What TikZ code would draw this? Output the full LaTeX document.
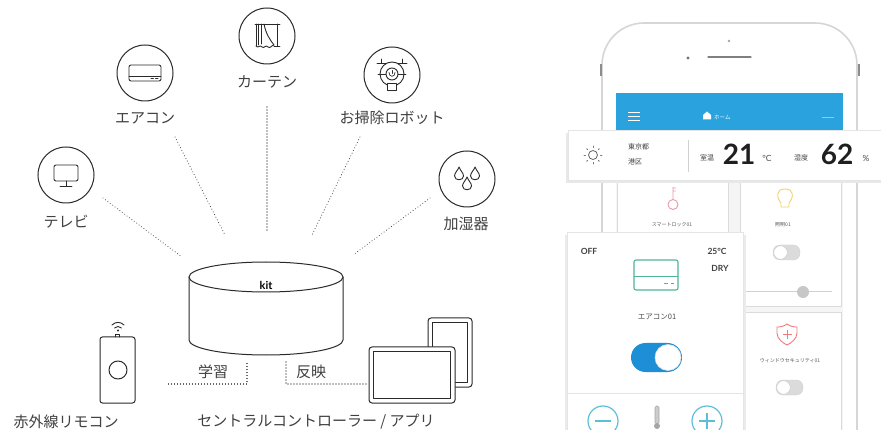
\documentclass[tikz,border=0pt]{standalone}
\usepackage{fontspec}
\setmainfont{Noto Sans CJK JP}
\newfontfamily\numfont{Lato}
\usetikzlibrary{calc}

\definecolor{ink}{HTML}{2A2A2A}
\definecolor{txt}{HTML}{404040}
\definecolor{dotc}{HTML}{4A4A4A}
\definecolor{appblue}{HTML}{2AA2DE}
\definecolor{togblue}{HTML}{1C8FD6}
\definecolor{teal}{HTML}{4DB59C}
\definecolor{ring}{HTML}{5CBFD8}
\definecolor{keypink}{HTML}{E79BAA}
\definecolor{bulb}{HTML}{EFD36A}
\definecolor{shield}{HTML}{EE7B7B}

\tikzset{
  devcircle/.style={circle, draw=ink, line width=1pt, minimum size=56pt, inner sep=0pt},
  devlabel/.style={text=txt, font=\fontsize{15}{18}\selectfont, inner sep=0pt},
  icon/.style={draw=ink, line width=0.9pt, line cap=round, line join=round},
  link/.style={draw=dotc, line width=1.05pt, dash pattern=on 0.1pt off 2.9pt, line cap=round},
  gadget/.style={draw=ink, line width=1pt, fill=white},
  apptxt/.style={text=black!65, inner sep=0pt, font=\fontsize{5}{6}\selectfont},
  card/.style={fill=white, draw=black!14, line width=0.6pt},
}

\begin{document}
\begin{tikzpicture}[x=1pt, y=-1pt]
\useasboundingbox (0,0) rectangle (881,430);
\clip (0,0) rectangle (881,430);
\fill[white] (0,0) rectangle (881,430);

% ---------- devices around the hub ----------
\node[devcircle] (tv)    at (66,175) {};
\node[devcircle] (ac)    at (145,73) {};
\node[devcircle] (cur)   at (267,36) {};
\node[devcircle] (robot) at (392,75) {};
\node[devcircle] (hum)   at (467,179) {};

\node[devlabel] (tvl)    at (66,222)  {テレビ};
\node[devlabel] (acl)    at (145,118) {エアコン};
\node[devlabel] (curl)   at (267,82)  {カーテン};
\node[devlabel] (robotl) at (392,118) {お掃除ロボット};
\node[devlabel] (huml)   at (466,224) {加湿器};

% TV
\begin{scope}[shift={(tv.center)}]
  \draw[icon, rounded corners=2pt] (-12,-10) rectangle (12,6);
  \draw[icon] (0,6) -- (0,11) (-6,11) -- (6,11);
\end{scope}
% air conditioner
\begin{scope}[shift={(ac.center)}]
  \draw[icon, rounded corners=2pt] (-16,-8) rectangle (16,8);
  \draw[icon] (-16,3) -- (16,3);
  \draw[icon] (6,5.6) -- (8.5,5.6) (10.5,5.6) -- (13,5.6);
\end{scope}
% curtain
\begin{scope}[shift={(cur.center)}]
  \draw[icon] (-12,-12) -- (13,-12);
  \draw[icon] (10,-12) -- (10,10) (7,10) -- (13,10);
  \draw[icon] (-11,-12) -- (-11,10) (-8.5,-12) -- (-8.5,9) (-6,-12) -- (-6,8);
  \draw[icon] (-3,-12) .. controls (-1,-2) and (3,4) .. (7,9);
  \draw[icon] (-11,10) .. controls (-9,13) and (-7,8) .. (-5,11)
              .. controls (-3,13) and (-1,8) .. (1,11)
              .. controls (3,13) and (5,9) .. (7,9);
\end{scope}
% cleaning robot
\begin{scope}[shift={(robot.center)}]
  \draw[icon] (0,-1) circle[radius=12pt];
  \draw[icon] (-14,-1) -- (14,-1);
  \draw[icon] (-15,-12) -- (-6,-12) (-10.5,-16) -- (-10.5,-12);
  \draw[icon] (6,-12) -- (15,-12) (10.5,-16) -- (10.5,-12);
  \draw[icon, fill=white] (0,-1) circle[radius=6pt];
  \draw[icon, line width=0.7pt] (0,-4.5) -- (0,-1.5);
  \draw[icon, line width=0.7pt] (-3,-2.5) .. controls (-3.2,2.5) and (3.2,2.5) .. (3,-2.5);
  \draw[icon, fill=white] (-4.5,8) rectangle (4.5,15);
\end{scope}
% humidifier drops
\begin{scope}[shift={(hum.center)}]
  \foreach \dx/\dy in {-8/-5, 8/-5, 0/5} {
    \draw[icon] (\dx,\dy-7) .. controls (\dx-1.5,\dy-3) and (\dx-4.5,\dy-1) .. (\dx-4.5,\dy+2)
        .. controls (\dx-4.5,\dy+7) and (\dx+4.5,\dy+7) .. (\dx+4.5,\dy+2)
        .. controls (\dx+4.5,\dy-1) and (\dx+1.5,\dy-3) .. (\dx,\dy-7);
  }
\end{scope}

% ---------- hub ----------
\coordinate (hub) at (266,310);
\filldraw[gadget] (189,277) -- (189,340)
   .. controls (189,348.3) and (223.5,355) .. (266,355)
   .. controls (308.5,355) and (343,348.3) .. (343,340) -- (343,277);
\filldraw[gadget] (266,277) ellipse[x radius=77pt, y radius=15pt];
\node[inner sep=0pt, text=black, font=\numfont\bfseries\fontsize{11}{11}\selectfont] (logo) at (266,285) {kit};

% dotted links from devices to the hub
\coordinate (tv-a) at (103,198);    \coordinate (tv-b) at (182,257);
\coordinate (ac-a) at (175,137);    \coordinate (ac-b) at (225,235);
\coordinate (cur-a) at (267,107);   \coordinate (cur-b) at (267,232);
\coordinate (robot-a) at (360,137); \coordinate (robot-b) at (312,235);
\coordinate (hum-a) at (430,198);   \coordinate (hum-b) at (353,255);
\draw[link] (tv-a) -- (tv-b);
\draw[link] (ac-a) -- (ac-b);
\draw[link] (cur-a) -- (cur-b);
\draw[link] (robot-a) -- (robot-b);
\draw[link] (hum-a) -- (hum-b);

% ---------- IR remote ----------
\node[gadget, rounded corners=2.5pt, minimum width=35pt, minimum height=66pt, inner sep=0pt] (remote) at (117.5,370) {};
\draw[icon] (115.5,337) -- (115.5,334.5) -- (119.5,334.5) -- (119.5,337);
\draw[icon, line width=1pt] (118,370) circle[radius=9pt];
\fill[ink] (118,330.5) circle[radius=1.1pt];
\draw[icon, line width=0.9pt] (114.5,328) .. controls (116.5,326) and (119.5,326) .. (121.5,328);
\draw[icon, line width=0.9pt] (112,325) .. controls (115.5,321.5) and (120.5,321.5) .. (124,325);
\node[devlabel] (remotel) at (66,422) {赤外線リモコン};

% ---------- controller devices ----------
\node[gadget, rounded corners=3pt, minimum width=44pt, minimum height=69pt, inner sep=0pt] (phone2) at (450,352.5) {};
\draw[icon] (432.5,322.5) rectangle (467.5,382.5);
\node[gadget, rounded corners=3pt, minimum width=86pt, minimum height=56pt, inner sep=0pt] (tablet) at (412,375) {};
\draw[icon] (373.5,351.5) rectangle (450.5,398.5);
\node[devlabel] (ctrll) at (316,422) {セントラルコントローラー / アプリ};

% learn / reflect links
\node[devlabel] (learn)   at (213,372) {学習};
\node[devlabel] (reflect) at (311,372) {反映};
\coordinate (learn-c)   at (247,384);
\coordinate (reflect-c) at (286,384);
\coordinate (learn-top)   at (247,362);
\coordinate (reflect-top) at (286,362);
\draw[link] (remote.east |- learn-c) ++(33,0) -- (learn-c) -- (learn-top);
\draw[link] (reflect-top) -- (reflect-c) -- (tablet.west |- reflect-c);

% ---------- smartphone app ----------
\filldraw[fill=white, draw=black!16, line width=1.6pt, rounded corners=42pt] (602,23) rectangle (857,490);
\fill[black!45] (599.5,64) rectangle (601.5,76);
\fill[black!45] (857.5,64) rectangle (859.5,76);
\draw[black!50, line width=1.3pt, line cap=round] (708,57) -- (751,57);
\fill[black!55] (688,58) circle[radius=1.7pt];
\fill[black!35] (729,41) circle[radius=1.3pt];

% screen
\fill[black!4] (616,93) rectangle (843,490);
\fill[appblue] (616,93) rectangle (843,136);
\draw[white, line width=1.1pt] (628,112.5) -- (640,112.5) (628,116.5) -- (640,116.5) (628,120.5) -- (640,120.5);
\fill[white] (703,119.5) -- (703,115) -- (707,111.5) -- (711,115) -- (711,119.5) -- cycle;
\node[apptxt, text=white, font=\fontsize{5.5}{6}\selectfont, anchor=west] (home) at (714,117) {ホーム};
\draw[white!45!appblue, line width=0.8pt] (822,117.5) -- (834,117.5);

% device cards behind the popup
\draw[card] (617,170) rectangle (728,330);
\draw[card] (740,170) rectangle (841,306);
\draw[card] (740,312) rectangle (841,440);
% smart lock
\draw[keypink, line width=0.9pt] (673,204.5) circle[radius=5pt] (673,199.5) -- (673,187) (673,188) -- (676,188) (673,191) -- (675.5,191);
\node[apptxt] (lockl) at (672,225) {スマートロック01};
% light
\draw[bulb, line width=0.9pt] (781,203) .. controls (776,197) and (776,189) .. (785,189) .. controls (794,189) and (794,197) .. (789,203) -- (789,207) -- (781,207) -- cycle;
\node[apptxt] (lightl) at (783,225) {照明01};
\filldraw[fill=black!14, draw=black!18, rounded corners=7pt] (773,245) rectangle (800,260);
\filldraw[fill=white, draw=black!20, line width=0.5pt] (780.5,252.5) circle[radius=6.8pt];
\draw[black!18, line width=1pt] (746,292) -- (832,292);
\fill[black!22] (803,292) circle[radius=6pt];
% window security
\draw[shield, line width=0.9pt] (787,324) .. controls (791,327) and (795,327) .. (797,327) -- (797,333) .. controls (797,339) and (791,343) .. (787,345) .. controls (783,343) and (777,339) .. (777,333) -- (777,327) .. controls (779,327) and (783,327) .. (787,324) -- cycle;
\draw[shield, line width=0.8pt] (787,330) -- (787,339) (782.5,334.5) -- (791.5,334.5);
\node[apptxt] (secl) at (790,361) {ウィンドウセキュリティ01};
\filldraw[fill=black!14, draw=black!18, rounded corners=7pt] (776,380) rectangle (803,395);
\filldraw[fill=white, draw=black!20, line width=0.5pt] (783.5,387.5) circle[radius=6.8pt];

% weather bar
\fill[black!9] (566,133) rectangle (890,183);
\filldraw[fill=white, draw=black!10, line width=0.5pt] (568,130) rectangle (890,180);
\draw[black!60, line width=0.8pt] (593,155) circle[radius=4.5pt];
\foreach \a in {0,45,...,315} {
  \draw[black!55, line width=0.8pt, line cap=round] ($(593,155)+(\a:7.5pt)$) -- ($(593,155)+(\a:9pt)$);
}
\node[apptxt, text=black!75, font=\fontsize{7}{8}\selectfont, anchor=west] (city) at (628,147) {東京都};
\node[apptxt, text=black!75, font=\fontsize{7}{8}\selectfont, anchor=west] (ward) at (628,162) {港区};
\draw[black!18, line width=0.6pt] (688,140) -- (688,172);
\node[apptxt, text=black!75, font=\fontsize{7}{8}\selectfont] (tlab) at (707,158) {室温};
\node[inner sep=0pt, text=black!88, font=\numfont\bfseries\fontsize{28}{28}\selectfont] (temp) at (739,154) {21};
\node[apptxt, text=black!70, font=\numfont\fontsize{8.5}{9}\selectfont] (tunit) at (767,158) {°C};
\node[apptxt, text=black!75, font=\fontsize{7}{8}\selectfont] (hlab) at (801,158) {湿度};
\node[inner sep=0pt, text=black!88, font=\numfont\bfseries\fontsize{28}{28}\selectfont] (humv) at (837,154) {62};
\node[apptxt, text=black!70, font=\numfont\fontsize{8.5}{9}\selectfont] (hunit) at (866,158) {\%};

% air conditioner popup
\fill[black!8] (565,235) rectangle (746,440);
\filldraw[fill=white, draw=black!10, line width=0.5pt] (567,232) rectangle (743,440);
\node[apptxt, text=black!75, font=\numfont\bfseries\fontsize{8.5}{9}\selectfont] (offl) at (589,251) {OFF};
\node[apptxt, text=black!75, font=\numfont\bfseries\fontsize{8.5}{9}\selectfont] (setl) at (717,251) {25°C};
\node[apptxt, text=black!75, font=\numfont\bfseries\fontsize{8.5}{9}\selectfont] (model) at (720,268) {DRY};
\draw[teal, line width=1.1pt, rounded corners=2pt] (634,260) rectangle (678,290);
\draw[teal, line width=1.1pt] (634,276.5) -- (678,276.5);
\draw[teal, line width=1pt] (664,283.5) -- (667.5,283.5) (670.5,283.5) -- (674,283.5);
\node[apptxt, text=black!70, font=\fontsize{7.5}{8}\selectfont] (acname) at (657,317) {エアコン01};
\fill[togblue, rounded corners=14.5pt] (631,343) rectangle (682,372);
\filldraw[fill=white, draw=black!12, line width=0.6pt] (668,357.5) circle[radius=13pt];
\draw[black!10, line width=0.6pt] (567,393) -- (743,393);
\draw[ring, line width=1.2pt] (603,421) circle[radius=15pt];
\draw[ring, line width=1.2pt] (595,421) -- (611,421);
\draw[ring, line width=1.2pt] (707,421) circle[radius=15pt];
\draw[ring, line width=1.2pt] (699,421) -- (715,421) (707,413) -- (707,429);
\filldraw[fill=black!20, draw=black!35, line width=0.6pt, rounded corners=1.5pt] (655,406) rectangle (659,424);
\fill[black!35] (657,426) circle[radius=3pt];
\end{tikzpicture}
\end{document}
